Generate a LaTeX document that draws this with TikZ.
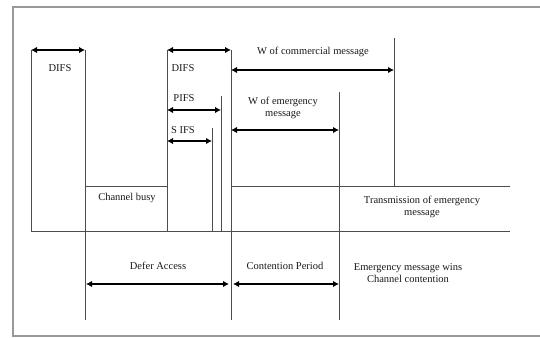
\documentclass[tikz,border=0pt]{standalone}
\usepackage{fontspec}
\setmainfont{Liberation Serif}
\usetikzlibrary{arrows.meta}
\begin{document}
\begin{tikzpicture}[x=1pt,y=-1pt,
  thin line/.style={draw=black!70,line width=1pt},
  frame line/.style={draw=black!40,line width=1.8pt},
  span/.style={draw=black,line width=2.5pt,{Latex[length=6pt,width=6.5pt]}-{Latex[length=6pt,width=6.5pt]}},
  lbl/.style={font=\fontsize{10.5}{12}\selectfont,text=black!90,inner sep=0pt,align=center}]
\useasboundingbox (0,0) rectangle (540,337);
% frame
\coordinate (f1) at (540,7); \coordinate (f2) at (13,7);
\coordinate (f3) at (13,336); \coordinate (f4) at (540,336);
\draw[frame line] (f1) -- (f2) -- (f3) -- (f4);
% coordinates
\coordinate (a1) at (31,50);  \coordinate (a2) at (31,231);
\coordinate (b1) at (85,50);  \coordinate (b2) at (85,320);
\coordinate (c1) at (167,50); \coordinate (c2) at (167,231);
\coordinate (d1) at (212,128);\coordinate (d2) at (212,231);
\coordinate (e1) at (221,96); \coordinate (e2) at (221,231);
\coordinate (g1) at (231,50); \coordinate (g2) at (231,320);
\coordinate (h1) at (394,38); \coordinate (h2) at (394,186);
\coordinate (k1) at (339,92); \coordinate (k2) at (339,320);
\coordinate (l1) at (31,231); \coordinate (l2) at (510,231);
\coordinate (m1) at (85,186); \coordinate (m2) at (167,186);
\coordinate (n1) at (231,186);\coordinate (n2) at (510,186);
% thin lines
\draw[thin line] (a1) -- (a2);
\draw[thin line] (b1) -- (b2);
\draw[thin line] (c1) -- (c2);
\draw[thin line] (d1) -- (d2);
\draw[thin line] (e1) -- (e2);
\draw[thin line] (g1) -- (g2);
\draw[thin line] (h1) -- (h2);
\draw[thin line] (k1) -- (k2);
\draw[thin line] (l1) -- (l2);
\draw[thin line] (m1) -- (m2);
\draw[thin line] (n1) -- (n2);
% arrow ends
\coordinate (p1) at (31,50);  \coordinate (p2) at (85,50);
\coordinate (q1) at (167,50); \coordinate (q2) at (231,50);
\coordinate (r1) at (167,110);\coordinate (r2) at (221,110);
\coordinate (s1) at (167,141);\coordinate (s2) at (212,141);
\coordinate (t1) at (231,70); \coordinate (t2) at (394,70);
\coordinate (u1) at (231,130);\coordinate (u2) at (339,130);
\coordinate (v1) at (86,284); \coordinate (v2) at (229,284);
\coordinate (w1) at (233,284);\coordinate (w2) at (339,284);
\draw[span] (p1) -- (p2);
\draw[span] (q1) -- (q2);
\draw[span] (r1) -- (r2);
\draw[span] (s1) -- (s2);
\draw[span] (t1) -- (t2);
\draw[span] (u1) -- (u2);
\draw[span] (v1) -- (v2);
\draw[span] (w1) -- (w2);
% labels
\node[lbl] (difs1) at (60,68) {DIFS};
\node[lbl] (busy) at (127,198) {Channel busy};
\node[lbl] (difs2) at (183,68) {DIFS};
\node[lbl] (pifs) at (184,98) {PIFS};
\node[lbl] (sifs) at (183,130) {S IFS};
\node[lbl] (wcom) at (313,52) {W of commercial message};
\node[lbl] (wem) at (283,108) {W of emergency\\message};
\node[lbl] (tx) at (422,207) {Transmission of emergency\\message};
\node[lbl] (defer) at (158,266) {Defer Access};
\node[lbl] (cont) at (285,266) {Contention Period};
\node[lbl] (wins) at (408,273) {Emergency message wins\\Channel contention};
\end{tikzpicture}
\end{document}
